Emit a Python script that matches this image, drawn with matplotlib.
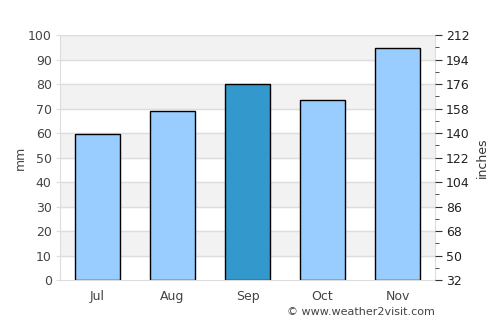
import matplotlib.pyplot as plt
import numpy as np

months = ['Jul', 'Aug', 'Sep', 'Oct', 'Nov']
rain_mm = [59.5, 69, 80, 73.7, 94.6]
highlight = 'Sep'
right_labels = ['32', '50', '68', '86', '104', '122', '140', '158', '176', '194', '212']

grid_col = '#dddddd'
text_col = '#444444'

fig = plt.figure(figsize=(5, 3.25), dpi=100)
ax = fig.add_axes([0.12, 0.138, 0.75, 0.754])

# alternating bands
for lo in range(10, 100, 20):
    ax.axhspan(lo, lo + 10, color='#f2f2f2', zorder=0)
for y in range(10, 101, 10):
    ax.axhline(y, color=grid_col, lw=1, zorder=0.5)

x = np.arange(len(months))
colors = ['#3399cc' if m == highlight else '#99ccff' for m in months]
ax.bar(x, rain_mm, width=0.6, color=colors, edgecolor='black', linewidth=1, zorder=2)

ax.set_xlim(-0.5, len(months) - 0.5)
ax.set_ylim(0, 100)
ax.set_xticks(x)
ax.set_xticklabels(months)
ax.set_yticks(range(0, 101, 10))
ax.tick_params(axis='x', length=0, pad=7, labelsize=9, labelcolor=text_col)
ax.tick_params(axis='y', length=3, color=grid_col, labelsize=9, labelcolor=text_col, pad=3)
for side in ['left', 'bottom', 'right']:
    ax.spines[side].set_color(grid_col)
ax.spines['top'].set_visible(False)
ax.set_ylabel('mm', color=text_col, fontsize=9, labelpad=1)

ax2 = ax.twinx()
ax2.set_ylim(0, 100)
ax2.set_yticks(range(0, 101, 10))
ax2.set_yticklabels(right_labels)
ax2.set_yticks(np.arange(5, 100, 10), minor=True)
ax2.tick_params(axis='y', which='major', length=5, color='#333333', labelsize=9, labelcolor='#222222', pad=3)
ax2.tick_params(axis='y', which='minor', length=3, color='#333333')
for s in ax2.spines.values():
    s.set_visible(False)
ax2.set_ylabel('inches', color='#333333', fontsize=9, labelpad=4)

fig.text(0.87, 0.025, '\u00a9 www.weather2visit.com', ha='right', va='bottom',
         fontsize=8, color='#444444')

fig.savefig('out.png', dpi=100)
